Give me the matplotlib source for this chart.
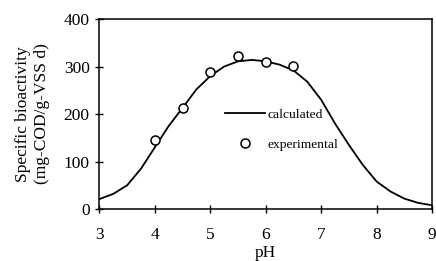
import numpy as np
import matplotlib.pyplot as plt

plt.rcParams['font.family'] = 'Liberation Serif'

# calculated curve
ph_calc = [3.0, 3.25, 3.5, 3.75, 4.0, 4.25, 4.5, 4.75, 5.0, 5.25, 5.5, 5.75,
           6.0, 6.25, 6.5, 6.75, 7.0, 7.25, 7.5, 7.75, 8.0, 8.25, 8.5, 8.75, 9.0]
act_calc = [21, 32, 50, 85, 130, 175, 213, 252, 280, 300, 311, 314,
            311, 304, 292, 268, 230, 180, 135, 93, 58, 37, 22, 13, 8]

# experimental points
ph_exp = [4.0, 4.5, 5.0, 5.5, 6.0, 6.5]
act_exp = [145, 213, 288, 322, 309, 301]

fig = plt.figure(figsize=(4.36, 2.61), dpi=100)
ax = fig.add_axes([0.228, 0.199, 0.763, 0.728])

ax.plot(ph_calc, act_calc, color='black', lw=1.3, label='calculated')
ax.plot(ph_exp, act_exp, 'o', mfc='white', mec='black', mew=1.1, ms=6.5,
        label='experimental')

ax.set_xlim(3, 9)
ax.set_ylim(0, 400)
ax.set_xticks(np.arange(3, 10, 1))
ax.set_yticks(np.arange(0, 401, 100))
ax.tick_params(direction='inout', length=6, width=1, labelsize=12.5,
               top=False, right=False)
ax.tick_params(axis='x', pad=10)
ax.tick_params(axis='y', pad=4)
for s in ax.spines.values():
    s.set_linewidth(1.1)

ax.set_xlabel('pH', fontsize=12.5, labelpad=1)
ax.set_ylabel('Specific bioactivity\n(mg-COD/g-VSS d)', fontsize=12.5,
              linespacing=1.2, labelpad=10)

ax.legend(loc='center left', bbox_to_anchor=(0.34, 0.418), frameon=False,
          fontsize=9.7, handlelength=3.0, handletextpad=0.2, labelspacing=1.3)

fig.savefig('out.png', dpi=100)
